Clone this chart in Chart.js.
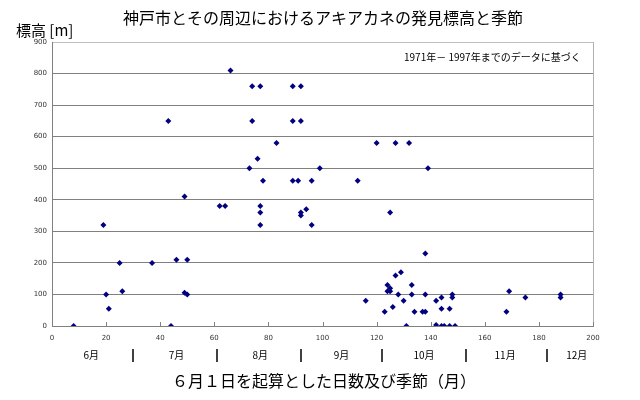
<!DOCTYPE html>
<html>
<head>
<meta charset="utf-8">
<script src="https://cdn.jsdelivr.net/npm/chart.js@4/dist/chart.umd.min.js"></script>
<style>
  body { margin: 0; background: #fff; }
  #wrap { width: 640px; height: 400px; }
</style>
</head>
<body>
<div id="wrap"><canvas id="chartAkiakane" width="640" height="400"></canvas></div>
<script>
// 6月1日からの日数と発見標高 (m)
const days = [8, 19, 20, 21, 25, 26, 37, 43, 44, 46, 49, 49, 50, 50, 62, 64, 66, 73, 74, 74,
  76, 77, 77, 77, 77, 78, 83, 89, 89, 89, 91, 92, 92, 92, 92, 94, 96, 96, 99, 113,
  116, 120, 123, 124, 124, 125, 125, 125, 126, 127, 127, 128, 129, 130, 131, 132, 133, 133, 134, 137,
  138, 138, 138, 139, 142, 142, 144, 144, 144, 145, 147, 147, 148, 148, 149, 168, 169, 175, 188, 188]
const elevations = [0, 320, 100, 55, 200, 110, 200, 650, 0, 210, 410, 105, 210, 100, 380, 380, 810, 500, 760, 650,
  530, 760, 380, 360, 320, 460, 580, 760, 650, 460, 460, 760, 650, 360, 350, 370, 460, 320, 500, 460,
  80, 580, 45, 130, 110, 360, 120, 110, 60, 580, 160, 100, 170, 80, 0, 580, 130, 100, 45, 45,
  230, 100, 45, 500, 80, 3, 90, 55, 0, 0, 55, 0, 100, 90, 0, 45, 110, 90, 100, 90]

const monthLabels = ['6月', '7月', '8月', '9月', '10月', '11月', '12月']
const monthLabelDays = [14.5, 46, 77, 107, 137.5, 167.5, 194]
const monthBoundaries = [30, 61, 92, 122, 153, 183]

const titleText = '神戸市とその周辺におけるアキアカネの発見標高と季節'
const yTitleText = '標高 [m]'
const xTitleText = '６月１日を起算とした日数及び季節（月）'
const noteText = '1971年－ 1997年までのデータに基づく'

const points = days.map((d, i) => ({ x: d, y: elevations[i] }))
const jpFont = '"Noto Sans CJK JP", "Noto Sans", sans-serif'

const decorations = {
    id: 'decorations',
    afterDraw(chart) {
        const ctx = chart.ctx
        const area = chart.chartArea
        const xScale = chart.scales.x
        ctx.save()
        // 右の枠線
        ctx.strokeStyle = '#b0b0b0'
        ctx.lineWidth = 1
        ctx.beginPath()
        ctx.moveTo(area.right + 0.5, area.top)
        ctx.lineTo(area.right + 0.5, area.bottom)
        ctx.stroke()
        // x軸の内向き目盛り
        ctx.strokeStyle = '#808080'
        xScale.ticks.forEach(t => {
            const px = Math.round(xScale.getPixelForValue(t.value)) + 0.5
            ctx.beginPath()
            ctx.moveTo(px, area.bottom)
            ctx.lineTo(px, area.bottom - 4)
            ctx.stroke()
        })
        ctx.fillStyle = '#000'
        ctx.textAlign = 'center'
        ctx.textBaseline = 'middle'
        ctx.font = '16px ' + jpFont
        ctx.fillText(titleText, 323, 18)
        ctx.textAlign = 'left'
        ctx.font = '15px ' + jpFont
        ctx.fillText(yTitleText, 16, 30)
        ctx.font = '10px ' + jpFont
        ctx.fillText(noteText, 404, 57)
        // 月ラベル
        ctx.textAlign = 'center'
        monthLabels.forEach((m, i) => {
            ctx.fillText(m, xScale.getPixelForValue(monthLabelDays[i]), 355)
        })
        ctx.strokeStyle = '#000'
        ctx.lineWidth = 1.5
        monthBoundaries.forEach(d => {
            const px = Math.round(xScale.getPixelForValue(d))
            ctx.beginPath()
            ctx.moveTo(px, 349)
            ctx.lineTo(px, 362)
            ctx.stroke()
        })
        ctx.font = '16px ' + jpFont
        ctx.fillText(xTitleText, 324, 381)
        ctx.restore()
    }
}

const chartAkiakane = new Chart(document.getElementById('chartAkiakane').getContext('2d'), {
    type: 'scatter',
    data: {
        datasets: [{
            label: '発見標高',
            data: points,
            pointStyle: 'rectRot',
            pointRadius: 3,
            pointHoverRadius: 3,
            backgroundColor: '#000080',
            borderColor: '#000080',
            borderWidth: 0
        }]
    },
    options: {
        responsive: false,
        animation: false,
        events: [],
        layout: { padding: { left: 0, right: 47, top: 42, bottom: 0 } },
        plugins: {
            legend: { display: false },
            tooltip: { enabled: false }
        },
        scales: {
            x: {
                type: 'linear',
                min: 0,
                max: 200,
                afterFit: s => { s.height = 74 },
                ticks: { stepSize: 20, padding: 8, color: '#333', font: { size: 7, family: 'DejaVu Sans' } },
                grid: { display: true, drawOnChartArea: false, drawTicks: false },
                border: { color: '#808080' }
            },
            y: {
                min: 0,
                max: 900,
                afterFit: s => { s.width = 52 },
                ticks: { stepSize: 100, padding: 5, color: '#333', font: { size: 7, family: 'DejaVu Sans' } },
                grid: {
                    drawTicks: false,
                    color: c => c.tick.value === 900 ? '#c0c0c0' : '#808080'
                },
                border: { color: '#808080' }
            }
        }
    },
    plugins: [decorations]
})
</script>
</body>
</html>
